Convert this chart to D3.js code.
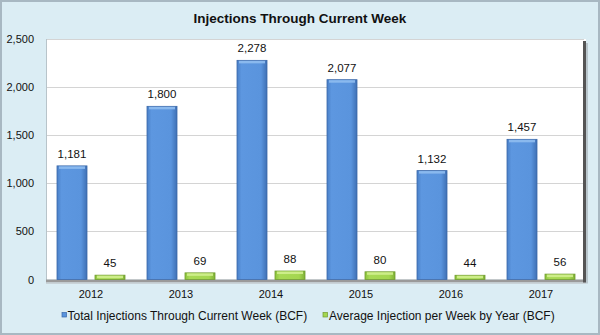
<!DOCTYPE html>
<html><head><meta charset="utf-8">
<script src="https://cdn.jsdelivr.net/npm/d3@7"></script>
<style>body{margin:0;background:#fff}svg{display:block;font-family:"Liberation Sans",Arial,sans-serif}</style>
</head><body><svg id="c" width="600" height="335"></svg>
<script>
const years = ["2012","2013","2014","2015","2016","2017"];
const totalInj = [1181,1800,2278,2077,1132,1457];
const avgInj = [45,69,88,80,44,56];
const yTicks = [0,500,1000,1500,2000,2500];
const seriesNames = ["Total Injections Through Current Week (BCF)","Average Injection per Week by Year (BCF)"];

(function(){
const svg = d3.select("#c");
const W=600,H=335;
const defs = svg.append("defs");
function grad(id, stops){
  const g=defs.append("linearGradient").attr("id",id).attr("x1","0").attr("x2","1").attr("y1","0").attr("y2","0");
  stops.forEach(s=>g.append("stop").attr("offset",s[0]).attr("stop-color",s[1]));
}
grad("gb",[[0,"#4a80c8"],[0.15,"#5d97e0"],[0.8,"#5a94dd"],[1,"#3f70b4"]]);
grad("gg",[[0,"#8cc43c"],[0.15,"#a8da55"],[0.8,"#a4d650"],[1,"#7fb235"]]);

svg.append("rect").attr("x",1).attr("y",1).attr("width",W-2).attr("height",H-2)
  .attr("fill","#dbedf4").attr("stroke","#a8b8c2").attr("stroke-width",2);

const pL=46,pR=586,pT=39,pB=279.5;
svg.append("rect").attr("x",pL).attr("y",pT).attr("width",pR-pL).attr("height",pB-pT).attr("fill","#ffffff");

const y=d3.scaleLinear().domain([0,2500]).range([pB,pT]);
const x0=d3.scaleBand().domain(years).range([pL,pR]).paddingInner(22/90).paddingOuter(11/90);
const x1=d3.scaleBand().domain([0,1]).range([0,x0.bandwidth()]).paddingInner(8/38);

svg.append("g").selectAll("line").data(yTicks.filter(d=>d>0)).join("line")
  .attr("x1",pL).attr("x2",pR-2).attr("y1",d=>Math.round(y(d))+0.5).attr("y2",d=>Math.round(y(d))+0.5)
  .attr("stroke","#d4d4d4").attr("stroke-width",1.2);

svg.append("line").attr("x1",pL+0.5).attr("x2",pL+0.5).attr("y1",pT).attr("y2",pB+3).attr("stroke","#b8c4ca");
svg.append("rect").attr("x",pL).attr("y",pB).attr("width",pR-pL).attr("height",3).attr("fill","#9a9a9a");
svg.append("rect").attr("x",pL).attr("y",pB+3).attr("width",pR-pL).attr("height",1.5).attr("fill","#c9d3d8");
svg.append("rect").attr("x",pR-3).attr("y",pT+2).attr("width",3).attr("height",pB-pT+1).attr("fill","#555");
svg.append("rect").attr("x",pR).attr("y",pT+4).attr("width",2).attr("height",pB-pT).attr("fill","#b9c6cc");

svg.append("g").selectAll("text").data(yTicks).join("text")
  .attr("x",34).attr("y",d=>y(d)+4).attr("text-anchor","end")
  .attr("font-size",11).attr("fill","#111").text(d=>d3.format(",")(d));

const series=[{vals:totalInj,fill:"url(#gb)",stroke:"#3b68a8",cap:"#8fbcf0"},{vals:avgInj,fill:"url(#gg)",stroke:"#6f9a2e",cap:"#d2f08f"}];
series.forEach((s,si)=>{
  const g=svg.append("g");
  g.selectAll("rect.b").data(years).join("rect").attr("class","b")
    .attr("x",d=>x0(d)+x1(si)).attr("width",x1.bandwidth())
    .attr("y",(d,i)=>y(s.vals[i])).attr("height",(d,i)=>pB-y(s.vals[i]))
    .attr("fill",s.fill).attr("stroke",s.stroke).attr("stroke-width",0.8);
  g.selectAll("rect.c").data(years).join("rect").attr("class","c")
    .attr("x",d=>x0(d)+x1(si)+2).attr("width",x1.bandwidth()-4)
    .attr("y",(d,i)=>y(s.vals[i])+0.5).attr("height",2.5)
    .attr("fill",s.cap).attr("opacity",0.9);
  g.selectAll("text").data(years).join("text")
    .attr("x",d=>x0(d)+x1(si)+x1.bandwidth()/2).attr("y",(d,i)=>y(s.vals[i])-8)
    .attr("text-anchor","middle").attr("font-size",11.5).attr("fill","#111")
    .text((d,i)=>d3.format(",")(s.vals[i]));
});

svg.append("g").selectAll("text").data(years).join("text")
  .attr("x",d=>x0(d)+x0.bandwidth()/2).attr("y",297.5).attr("text-anchor","middle")
  .attr("font-size",11).attr("fill","#111").text(d=>d);

svg.append("text").attr("x",300).attr("y",23).attr("text-anchor","middle")
  .attr("font-size",13.5).attr("font-weight","bold").attr("fill","#111").text("Injections Through Current Week");

const leg=[{x:62,tx:67.5,fill:"#5a94dd",stroke:"#3b68a8"},{x:323,tx:329,fill:"#a4d650",stroke:"#6f9a2e"}];
leg.forEach((l,i)=>{
  svg.append("rect").attr("x",l.x).attr("y",312.5).attr("width",4.5).attr("height",4.5).attr("fill",l.fill).attr("stroke",l.stroke).attr("stroke-width",0.7);
  svg.append("text").attr("x",l.tx).attr("y",320).attr("font-size",12).attr("fill","#111").text(seriesNames[i]);
});
})();
</script></body></html>
